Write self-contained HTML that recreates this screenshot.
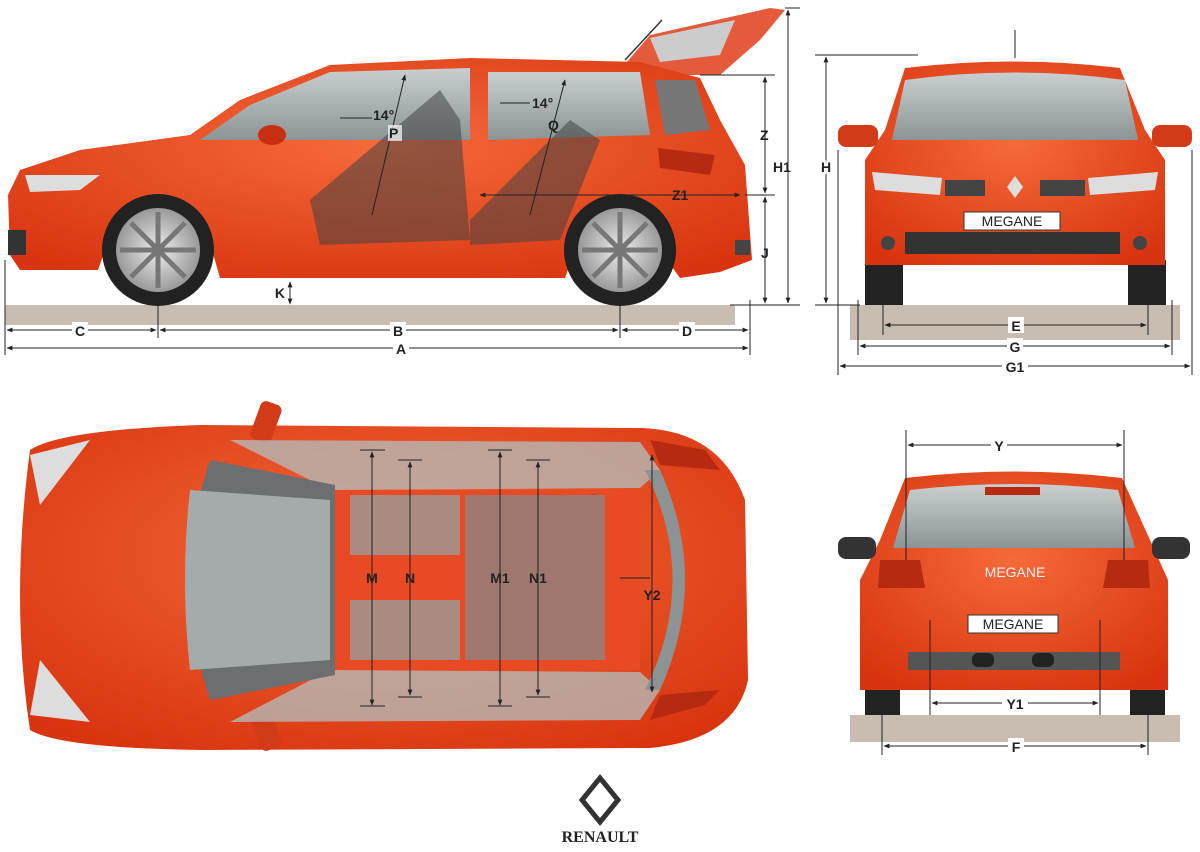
<!DOCTYPE html>
<html><head><meta charset="utf-8"><style>
html,body{margin:0;padding:0;background:#fff;}
svg{display:block;font-family:"Liberation Sans",Arial,sans-serif;}
text{font-weight:bold;font-size:14px;fill:#222;}
</style></head><body>
<svg width="1200" height="852" viewBox="0 0 1200 852" xmlns="http://www.w3.org/2000/svg">
<defs>
<marker id="a" viewBox="0 0 10 10" refX="9" refY="5" markerWidth="6" markerHeight="6" orient="auto-start-reverse"><path d="M0,1 L10,5 L0,9z" fill="#222"/></marker>
<radialGradient id="body" cx="50%" cy="40%" r="70%"><stop offset="0" stop-color="#f56a3a"/><stop offset="1" stop-color="#d8340f"/></radialGradient>
<linearGradient id="glass" x1="0" y1="0" x2="0" y2="1"><stop offset="0" stop-color="#c9cfd0"/><stop offset="1" stop-color="#8c9495"/></linearGradient>
<radialGradient id="rim"><stop offset="0" stop-color="#eee"/><stop offset="1" stop-color="#999"/></radialGradient>
</defs>
<g stroke="#222" stroke-width="1" fill="none">
</g>
<!-- ===== SIDE VIEW ===== -->
<rect x="5" y="305" width="730" height="20" fill="#c9bdb2"/>
<!-- tailgate open -->
<path d="M620,70 L650,35 L770,8 L785,10 L760,40 L720,75 L660,75z" fill="#e55a3a"/>
<path d="M650,38 L735,20 L720,55 L660,62z" fill="#ccc"/>
<line x1="625" y1="60" x2="662" y2="20" stroke="#333" stroke-width="1.5"/>
<!-- body -->
<path d="M10,255 L8,195 L20,170 L80,150 L190,135 L240,100 L330,65 L470,58 L640,62 L700,78 L720,120 L745,165 L752,260 L720,272 L680,278 L660,250 C650,210 590,210 575,250 L565,278 L220,278 L212,250 C200,210 115,210 105,250 L98,270 L20,270z" fill="url(#body)"/>
<path d="M200,140 L250,105 L330,72 L470,68 L470,140z" fill="url(#glass)"/>
<path d="M488,72 L640,72 L650,135 L488,140z" fill="url(#glass)"/>
<path d="M655,80 L695,80 L710,130 L665,135z" fill="#777"/>
<path d="M310,200 L440,90 L460,120 L470,240 L320,245z" fill="#444" opacity="0.55"/>
<path d="M470,220 L570,120 L600,140 L560,240 L470,245z" fill="#444" opacity="0.55"/>
<path d="M658,148 L715,155 L710,175 L660,168z" fill="#b52a10"/>
<path d="M25,175 L100,175 L80,190 L30,192z" fill="#ddd"/>
<rect x="8" y="230" width="18" height="25" fill="#333"/>
<rect x="735" y="240" width="15" height="15" fill="#444"/>
<ellipse cx="272" cy="135" rx="14" ry="10" fill="#c63010"/>
<circle cx="158" cy="250" r="56" fill="#222"/><circle cx="158" cy="250" r="42" fill="url(#rim)"/>
<circle cx="620" cy="250" r="56" fill="#222"/><circle cx="620" cy="250" r="42" fill="url(#rim)"/>
<g stroke="#777" stroke-width="5"><line x1="158" y1="212" x2="158" y2="288"/><line x1="120" y1="250" x2="196" y2="250"/><line x1="131" y1="223" x2="185" y2="277"/><line x1="185" y1="223" x2="131" y2="277"/>
<line x1="620" y1="212" x2="620" y2="288"/><line x1="582" y1="250" x2="658" y2="250"/><line x1="593" y1="223" x2="647" y2="277"/><line x1="647" y1="223" x2="593" y2="277"/></g>
<!-- side dims -->
<g stroke="#222" stroke-width="1" fill="none">
<line x1="372" y1="215" x2="405" y2="75" marker-end="url(#a)"/>
<line x1="530" y1="215" x2="565" y2="80" marker-end="url(#a)"/>
<line x1="340" y1="118" x2="372" y2="118"/><line x1="500" y1="103" x2="530" y2="103"/>
<line x1="480" y1="195" x2="740" y2="195" marker-start="url(#a)" marker-end="url(#a)"/>
<line x1="290" y1="282" x2="290" y2="304" marker-start="url(#a)" marker-end="url(#a)"/>
<line x1="5" y1="260" x2="5" y2="355"/><line x1="158" y1="305" x2="158" y2="338"/><line x1="620" y1="305" x2="620" y2="338"/><line x1="750" y1="300" x2="750" y2="355"/>
<line x1="7" y1="330" x2="156" y2="330" marker-start="url(#a)" marker-end="url(#a)"/>
<line x1="160" y1="330" x2="618" y2="330" marker-start="url(#a)" marker-end="url(#a)"/>
<line x1="622" y1="330" x2="748" y2="330" marker-start="url(#a)" marker-end="url(#a)"/>
<line x1="7" y1="348" x2="748" y2="348" marker-start="url(#a)" marker-end="url(#a)"/>
<line x1="700" y1="75" x2="775" y2="75"/><line x1="745" y1="195" x2="775" y2="195"/><line x1="730" y1="305" x2="800" y2="305"/><line x1="785" y1="8" x2="800" y2="8"/>
<line x1="765" y1="77" x2="765" y2="193" marker-start="url(#a)" marker-end="url(#a)"/>
<line x1="765" y1="197" x2="765" y2="303" marker-start="url(#a)" marker-end="url(#a)"/>
<line x1="788" y1="10" x2="788" y2="303" marker-start="url(#a)" marker-end="url(#a)"/>
</g>
<g>
<rect x="388" y="125" width="14" height="16" fill="#fff" opacity=".7"/>
<text x="373" y="120">14°</text><text x="389" y="138">P</text>
<text x="532" y="108">14°</text><text x="548" y="130">Q</text>
<text x="672" y="200">Z1</text><text x="285" y="298" text-anchor="end">K</text>
<text x="760" y="140">Z</text><text x="761" y="258">J</text><text x="773" y="172">H1</text>
<rect x="72" y="322" width="16" height="16" fill="#fff"/><text x="80" y="336" text-anchor="middle">C</text>
<rect x="390" y="322" width="16" height="16" fill="#fff"/><text x="398" y="336" text-anchor="middle">B</text>
<rect x="679" y="322" width="16" height="16" fill="#fff"/><text x="687" y="336" text-anchor="middle">D</text>
<rect x="393" y="340" width="16" height="16" fill="#fff"/><text x="401" y="354" text-anchor="middle">A</text>
</g>
<!-- ===== FRONT VIEW ===== -->
<rect x="850" y="305" width="330" height="35" fill="#c9bdb2"/>
<rect x="865" y="260" width="38" height="45" fill="#222"/><rect x="1128" y="260" width="38" height="45" fill="#222"/>
<path d="M885,130 L905,68 Q1015,55 1120,68 L1145,130 L1165,160 L1165,265 L865,265 L865,160z" fill="url(#body)"/>
<path d="M905,80 Q1015,65 1125,80 L1138,140 L892,140z" fill="url(#glass)"/>
<rect x="838" y="125" width="40" height="22" rx="8" fill="#d23a18"/><rect x="1152" y="125" width="40" height="22" rx="8" fill="#d23a18"/>
<path d="M872,172 L942,178 L940,195 L875,190z" fill="#ddd"/><path d="M1158,172 L1088,178 L1090,195 L1155,190z" fill="#ddd"/>
<rect x="945" y="180" width="40" height="16" fill="#444"/><rect x="1040" y="180" width="45" height="16" fill="#444"/>
<path d="M1015,176 L1023,187 L1015,198 L1007,187z" fill="#ddd"/>
<rect x="964" y="212" width="96" height="18" fill="#fff" stroke="#333"/>
<text x="1012" y="226" text-anchor="middle" font-size="13" style="font-weight:normal">MEGANE</text>
<rect x="905" y="232" width="215" height="22" fill="#333"/>
<circle cx="888" cy="243" r="7" fill="#444"/><circle cx="1140" cy="243" r="7" fill="#444"/>
<g stroke="#222" stroke-width="1" fill="none">
<line x1="1015" y1="30" x2="1015" y2="58"/>
<line x1="815" y1="55" x2="918" y2="55"/><line x1="815" y1="305" x2="860" y2="305"/>
<line x1="826" y1="57" x2="826" y2="303" marker-start="url(#a)" marker-end="url(#a)"/>
<line x1="883" y1="300" x2="883" y2="335"/><line x1="1148" y1="300" x2="1148" y2="335"/>
<line x1="858" y1="300" x2="858" y2="355"/><line x1="1172" y1="300" x2="1172" y2="355"/>
<line x1="838" y1="150" x2="838" y2="375"/><line x1="1192" y1="150" x2="1192" y2="375"/>
<line x1="885" y1="325" x2="1146" y2="325" marker-start="url(#a)" marker-end="url(#a)"/>
<line x1="860" y1="346" x2="1170" y2="346" marker-start="url(#a)" marker-end="url(#a)"/>
<line x1="840" y1="366" x2="1190" y2="366" marker-start="url(#a)" marker-end="url(#a)"/>
</g>
<text x="826" y="172" text-anchor="middle" style="paint-order:stroke" stroke="#fff" stroke-width="4">H</text>
<rect x="1008" y="317" width="16" height="16" fill="#fff"/><text x="1016" y="331" text-anchor="middle">E</text>
<rect x="1007" y="338" width="16" height="16" fill="#fff"/><text x="1015" y="352" text-anchor="middle">G</text>
<rect x="1002" y="358" width="26" height="16" fill="#fff"/><text x="1015" y="372" text-anchor="middle">G1</text>
<!-- ===== TOP VIEW ===== -->
<path d="M30,450 Q60,430 200,425 L640,428 Q720,430 745,500 L748,680 Q735,740 650,748 L200,750 Q60,748 30,730 Q10,600 30,450z" fill="url(#body)"/>
<rect x="255" y="402" width="22" height="40" rx="6" fill="#d23a18" transform="rotate(20 266 422)"/>
<rect x="255" y="710" width="22" height="40" rx="6" fill="#d23a18" transform="rotate(-20 266 730)"/>
<path d="M230,440 L640,442 L660,470 L640,488 L330,490 L230,440z" fill="#b5b8b6" opacity=".8"/>
<path d="M230,722 L640,720 L660,690 L640,672 L330,670 L230,722z" fill="#b5b8b6" opacity=".8"/>
<path d="M210,460 L335,485 L335,675 L210,700 Q170,580 210,460z" fill="#6b6f70"/>
<path d="M190,490 L330,500 L330,660 L190,670 Q180,580 190,490z" fill="#a5abab"/>
<rect x="335" y="490" width="305" height="180" fill="#e84a24"/>
<rect x="350" y="495" width="110" height="60" fill="#9a9a9a" opacity=".8"/>
<rect x="350" y="600" width="110" height="60" fill="#9a9a9a" opacity=".8"/>
<rect x="465" y="495" width="140" height="165" fill="#888" opacity=".75"/>
<path d="M645,470 Q700,580 645,690 L660,690 Q710,580 660,470z" fill="#8d9394"/>
<path d="M30,455 L90,440 L40,505z" fill="#ddd"/><path d="M30,715 L90,722 L40,660z" fill="#ddd"/>
<path d="M650,440 L705,450 L720,470 L660,465z" fill="#b52a10"/><path d="M650,720 L705,705 L720,690 L660,695z" fill="#b52a10"/>
<g stroke="#222" stroke-width="1" fill="none">
<line x1="372" y1="452" x2="372" y2="705" marker-start="url(#a)" marker-end="url(#a)"/>
<line x1="410" y1="462" x2="410" y2="695" marker-start="url(#a)" marker-end="url(#a)"/>
<line x1="500" y1="452" x2="500" y2="705" marker-start="url(#a)" marker-end="url(#a)"/>
<line x1="538" y1="462" x2="538" y2="695" marker-start="url(#a)" marker-end="url(#a)"/>
<line x1="652" y1="455" x2="652" y2="692" marker-start="url(#a)" marker-end="url(#a)"/>
<line x1="360" y1="450" x2="385" y2="450"/><line x1="360" y1="706" x2="385" y2="706"/>
<line x1="398" y1="460" x2="422" y2="460"/><line x1="398" y1="697" x2="422" y2="697"/>
<line x1="488" y1="450" x2="512" y2="450"/><line x1="488" y1="706" x2="512" y2="706"/>
<line x1="526" y1="460" x2="550" y2="460"/><line x1="526" y1="697" x2="550" y2="697"/>
<line x1="620" y1="578" x2="650" y2="578"/>
</g>
<text x="372" y="583" text-anchor="middle">M</text><text x="410" y="583" text-anchor="middle">N</text>
<text x="500" y="583" text-anchor="middle">M1</text><text x="538" y="583" text-anchor="middle">N1</text>
<text x="652" y="600" text-anchor="middle">Y2</text>
<!-- ===== REAR VIEW ===== -->
<rect x="850" y="715" width="330" height="27" fill="#c9bdb2"/>
<rect x="865" y="680" width="35" height="35" fill="#222"/><rect x="1130" y="680" width="35" height="35" fill="#222"/>
<path d="M880,540 L905,478 Q1015,465 1122,478 L1150,540 L1168,580 L1168,690 L860,690 L860,580z" fill="url(#body)"/>
<path d="M910,490 Q1015,478 1118,490 L1135,548 L893,548z" fill="url(#glass)"/>
<rect x="838" y="537" width="38" height="22" rx="8" fill="#333"/><rect x="1152" y="537" width="38" height="22" rx="8" fill="#333"/>
<path d="M880,560 L920,560 L925,588 L878,588z" fill="#b52a10"/><path d="M1148,560 L1108,560 L1103,588 L1150,588z" fill="#b52a10"/>
<rect x="985" y="487" width="55" height="8" fill="#b52a10"/>
<text x="1015" y="577" text-anchor="middle" font-size="9" style="font-weight:normal;fill:#eee">MEGANE</text>
<rect x="968" y="615" width="90" height="18" fill="#fff" stroke="#333"/>
<text x="1013" y="629" text-anchor="middle" font-size="13" style="font-weight:normal">MEGANE</text>
<rect x="908" y="652" width="212" height="18" fill="#555"/>
<rect x="972" y="653" width="22" height="14" rx="6" fill="#222"/><rect x="1032" y="653" width="22" height="14" rx="6" fill="#222"/>
<g stroke="#222" stroke-width="1" fill="none">
<line x1="906" y1="430" x2="906" y2="560"/><line x1="1124" y1="430" x2="1124" y2="560"/>
<line x1="908" y1="445" x2="1122" y2="445" marker-start="url(#a)" marker-end="url(#a)"/>
<line x1="930" y1="620" x2="930" y2="715"/><line x1="1100" y1="620" x2="1100" y2="715"/>
<line x1="932" y1="703" x2="1098" y2="703" marker-start="url(#a)" marker-end="url(#a)"/>
<line x1="882" y1="715" x2="882" y2="755"/><line x1="1148" y1="715" x2="1148" y2="755"/>
<line x1="884" y1="746" x2="1146" y2="746" marker-start="url(#a)" marker-end="url(#a)"/>
</g>
<rect x="991" y="437" width="16" height="16" fill="#fff"/><text x="999" y="451" text-anchor="middle">Y</text>
<rect x="1002" y="695" width="26" height="16" fill="#fff"/><text x="1015" y="709" text-anchor="middle">Y1</text>
<rect x="1008" y="738" width="16" height="16" fill="#fff"/><text x="1016" y="752" text-anchor="middle">F</text>
<!-- logo -->
<path d="M600,778 L618,800 L600,822 L582,800z" fill="none" stroke="#333" stroke-width="5"/>
<text x="600" y="842" text-anchor="middle" font-family="Liberation Serif" style="font-family:'Liberation Serif',serif;font-size:16px">RENAULT</text>
</svg>
</body></html>
